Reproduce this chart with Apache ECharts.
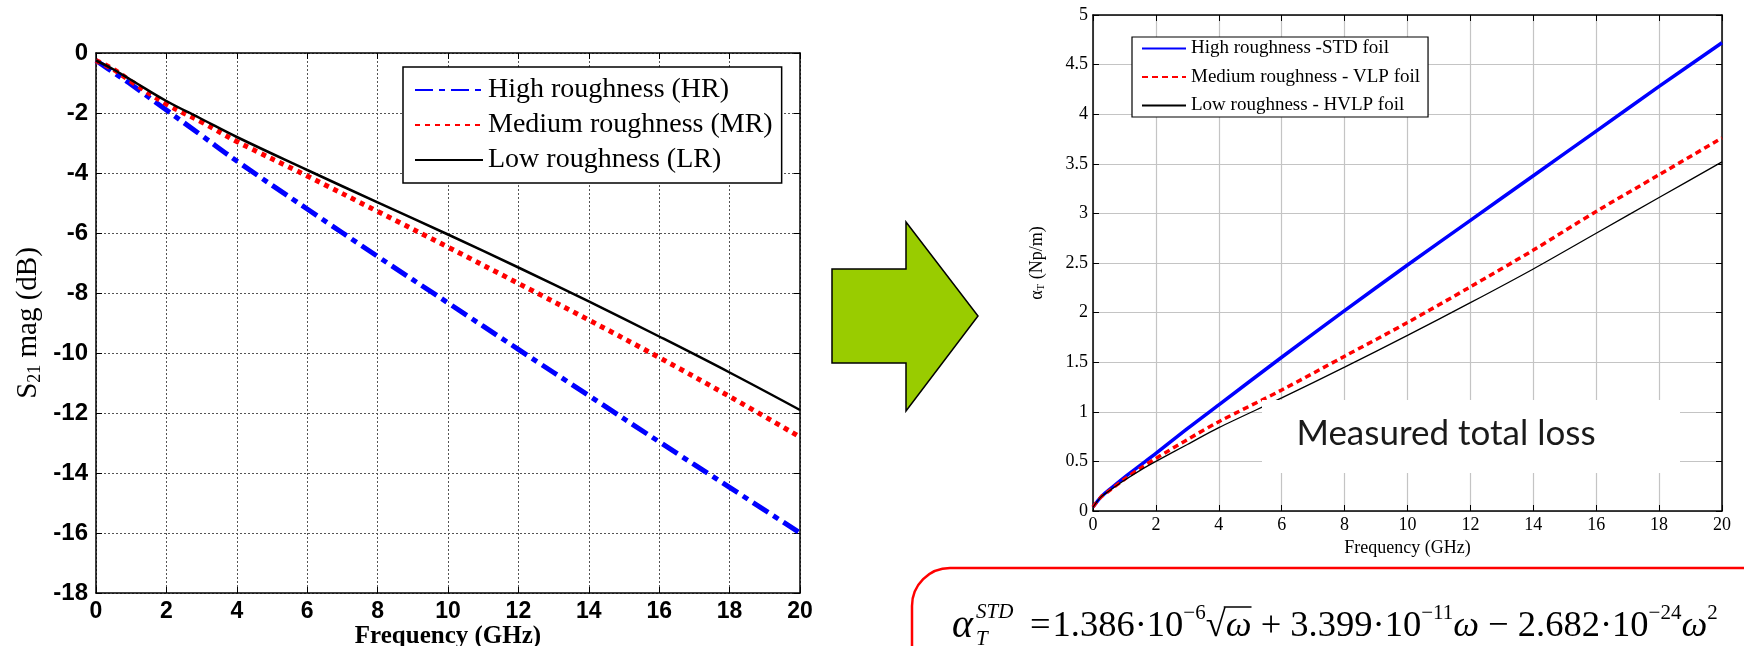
<!DOCTYPE html>
<html><head><meta charset="utf-8">
<script src="https://cdn.jsdelivr.net/npm/echarts@6/dist/echarts.min.js"></script>
<style>html,body{margin:0;padding:0;background:#fff}#c{width:1744px;height:646px}</style>
</head><body><div id="c"></div>
<script>
// ---- Left chart: S21 magnitude (dB) vs frequency (GHz)
const freqS21 = [0, 0.5, 1, 2, 3, 4, 6, 8, 10, 12, 14, 16, 18, 20];
const hrS21 = [-0.25, -0.65, -1.05, -1.9, -2.75, -3.6, -5.2, -6.78, -8.33, -9.88, -11.42, -12.96, -14.48, -16.0];
const mrS21 = [-0.25, -0.55, -0.95, -1.7, -2.3, -2.95, -4.1, -5.28, -6.47, -7.68, -8.9, -10.15, -11.45, -12.8];
const lrS21 = [-0.25, -0.55, -0.9, -1.6, -2.2, -2.8, -3.9, -4.98, -6.05, -7.15, -8.28, -9.45, -10.65, -11.9];
const leftNames = ['High roughness (HR)', 'Medium roughness (MR)', 'Low roughness (LR)'];

// ---- Right chart: total attenuation alpha_T (Np/m) vs frequency (GHz)
const freqA = [0, 0.25, 0.5, 1, 1.5, 2, 3, 4, 6, 8, 10, 12, 14, 16, 18, 20];
const stdA = [0.04, 0.14, 0.21, 0.34, 0.46, 0.58, 0.83, 1.07, 1.55, 2.02, 2.48, 2.93, 3.38, 3.83, 4.28, 4.72];
const vlpA = [0.04, 0.14, 0.2, 0.32, 0.43, 0.53, 0.72, 0.9, 1.22, 1.56, 1.9, 2.26, 2.63, 3.02, 3.39, 3.76];
const hvlpA = [0.04, 0.14, 0.2, 0.31, 0.41, 0.5, 0.67, 0.84, 1.14, 1.45, 1.77, 2.1, 2.44, 2.8, 3.16, 3.52];
const rightNames = ['High roughness -STD foil', 'Medium roughness - VLP foil', 'Low roughness - HVLP foil'];

const pairs = (xs, ys) => xs.map((x, i) => [x, ys[i]]);

const chart = echarts.init(document.getElementById('c'));

const serif = 'Liberation Serif';
function frameAxis(grid, pos, min, max, interval) {
  return {
    gridIndex: grid, type: 'value', position: pos, min, max, interval,
    axisLine: {show: true, onZero: false, lineStyle: {color: '#000', width: 1.5}},
    axisTick: {show: true, inside: true, length: 6, lineStyle: {color: '#000', width: 1}},
    axisLabel: {show: false}, splitLine: {show: false}
  };
}

const option = {
  animation: false,
  backgroundColor: '#fff',
  textStyle: {fontFamily: serif},
  grid: [
    {left: 96, top: 53, width: 704, height: 540, show: false, outerBoundsMode: 'none', containLabel: false},
    {left: 1093, top: 15, width: 629, height: 496, show: false, outerBoundsMode: 'none', containLabel: false}
  ],
  xAxis: [
    {
      gridIndex: 0, type: 'value', min: 0, max: 20, interval: 2, position: 'bottom',
      axisLine: {show: true, onZero: false, lineStyle: {color: '#000', width: 1.5}},
      axisTick: {show: true, inside: true, length: 6, lineStyle: {color: '#000'}},
      axisLabel: {margin: 7, color: '#000', fontFamily: 'Liberation Sans', fontWeight: 'bold', fontSize: 23},
      splitLine: {show: true, lineStyle: {type: [2, 2], color: '#555', width: 1}},
      name: 'Frequency (GHz)', nameLocation: 'middle', nameGap: 31, nameMoveOverlap: false,
      nameTextStyle: {fontFamily: serif, fontWeight: 'bold', fontSize: 25, color: '#000'}
    },
    frameAxis(0, 'top', 0, 20, 2),
    {
      gridIndex: 1, type: 'value', min: 0, max: 20, interval: 2, position: 'bottom',
      axisLine: {show: true, onZero: false, lineStyle: {color: '#000', width: 1.5}},
      axisTick: {show: true, inside: true, length: 6, lineStyle: {color: '#000'}},
      axisLabel: {margin: 5, color: '#000', fontFamily: serif, fontSize: 18},
      splitLine: {show: true, lineStyle: {color: '#c4c4c4', width: 1.2}},
      name: 'Frequency (GHz)', nameLocation: 'middle', nameGap: 28, nameMoveOverlap: false,
      nameTextStyle: {fontFamily: serif, fontSize: 18, color: '#000'}
    },
    frameAxis(1, 'top', 0, 20, 2)
  ],
  yAxis: [
    {
      gridIndex: 0, type: 'value', min: -18, max: 0, interval: 2, position: 'left',
      axisLine: {show: true, onZero: false, lineStyle: {color: '#000', width: 1.5}},
      axisTick: {show: true, inside: true, length: 6, lineStyle: {color: '#000'}},
      axisLabel: {margin: 8, color: '#000', fontFamily: 'Liberation Sans', fontWeight: 'bold', fontSize: 24},
      splitLine: {show: true, lineStyle: {type: [2, 2], color: '#555', width: 1}},
      name: 'S{s|21} mag (dB)', nameLocation: 'middle', nameGap: 52, nameMoveOverlap: false,
      nameTextStyle: {fontFamily: serif, fontSize: 29, color: '#000',
        rich: {s: {fontFamily: serif, fontSize: 18, color: '#000', padding: [14, 0, 0, 0]}}}
    },
    frameAxis(0, 'right', -18, 0, 2),
    {
      gridIndex: 1, type: 'value', min: 0, max: 5, interval: 0.5, position: 'left',
      axisLine: {show: true, onZero: false, lineStyle: {color: '#000', width: 1.5}},
      axisTick: {show: true, inside: true, length: 6, lineStyle: {color: '#000'}},
      axisLabel: {margin: 5, color: '#000', fontFamily: serif, fontSize: 18},
      splitLine: {show: true, lineStyle: {color: '#c4c4c4', width: 1.2}},
      name: 'α{s|T} (Np/m)', nameLocation: 'middle', nameGap: 46, nameMoveOverlap: false,
      nameTextStyle: {fontFamily: serif, fontSize: 18, color: '#000',
        rich: {s: {fontFamily: serif, fontSize: 11, color: '#000', padding: [8, 0, 0, 0]}}}
    },
    frameAxis(1, 'right', 0, 5, 0.5)
  ],
  legend: [
    {
      data: leftNames, orient: 'vertical', left: 403, top: 67, selectedMode: false,
      itemWidth: 68, itemHeight: 22, itemGap: 7, padding: [9, 9, 9, 11],
      backgroundColor: '#fff', borderColor: '#000', borderWidth: 1.5,
      itemStyle: {opacity: 0},
      textStyle: {fontFamily: serif, fontSize: 28, lineHeight: 26, color: '#000'}
    },
    {
      data: rightNames, orient: 'vertical', left: 1132, top: 37, selectedMode: false,
      itemWidth: 44, itemHeight: 16, itemGap: 9.5, padding: [2, 8, 2, 9],
      backgroundColor: '#fff', borderColor: '#000', borderWidth: 1.2,
      itemStyle: {opacity: 0},
      textStyle: {fontFamily: serif, fontSize: 19, lineHeight: 19, color: '#000'}
    }
  ],
  series: [
    {name: leftNames[0], type: 'line', xAxisIndex: 0, yAxisIndex: 0, data: pairs(freqS21, hrS21),
      symbol: 'none', smooth: 0.4, lineStyle: {color: '#0000ff', width: 5, type: [18, 6, 6, 6]}, itemStyle: {color: '#0000ff'}, z: 3},
    {name: leftNames[1], type: 'line', xAxisIndex: 0, yAxisIndex: 0, data: pairs(freqS21, mrS21),
      symbol: 'none', smooth: 0.4, lineStyle: {color: '#ff0000', width: 5, type: [5, 5]}, itemStyle: {color: '#ff0000'}, z: 4},
    {name: leftNames[2], type: 'line', xAxisIndex: 0, yAxisIndex: 0, data: pairs(freqS21, lrS21),
      symbol: 'none', smooth: 0.4, lineStyle: {color: '#000', width: 2.5}, itemStyle: {color: '#000'}, z: 5},
    {name: rightNames[0], type: 'line', xAxisIndex: 2, yAxisIndex: 2, data: pairs(freqA, stdA),
      symbol: 'none', smooth: 0.3, lineStyle: {color: '#0000ff', width: 3.5}, itemStyle: {color: '#0000ff'}, z: 3},
    {name: rightNames[1], type: 'line', xAxisIndex: 2, yAxisIndex: 2, data: pairs(freqA, vlpA),
      symbol: 'none', smooth: 0.3, lineStyle: {color: '#ff0000', width: 3.5, type: [6, 4]}, itemStyle: {color: '#ff0000'}, z: 4},
    {name: rightNames[2], type: 'line', xAxisIndex: 2, yAxisIndex: 2, data: pairs(freqA, hvlpA),
      symbol: 'none', smooth: 0.3, lineStyle: {color: '#000', width: 1.3}, itemStyle: {color: '#000'}, z: 5}
  ]
};

// ---- formula pieces, laid out by measuring text widths
const formulaPieces = [
  {t: '=', size: 36.5},
  {t: '1.386·10', size: 36.5},
  {t: '−6', size: 21, sup: true},
  {t: '√', size: 36.5},
  {t: 'ω', size: 36.5, it: true, over: true},
  {t: ' + 3.399·10', size: 36.5},
  {t: '−11', size: 21, sup: true},
  {t: 'ω', size: 36.5, it: true},
  {t: ' − 2.682·10', size: 36.5},
  {t: '−24', size: 21, sup: true},
  {t: 'ω', size: 36.5, it: true},
  {t: '2', size: 21, sup: true}
];
const ctx = document.createElement('canvas').getContext('2d');
const graphics = [];
// arrow
graphics.push({type: 'polygon', z: 50,
  shape: {points: [[832, 269], [906, 269], [906, 222], [978, 316], [906, 411], [906, 363], [832, 363]]},
  style: {fill: '#99cc00', stroke: '#000', lineWidth: 1.5}});
// measured total loss box
graphics.push({type: 'rect', z: 50, shape: {x: 1262, y: 400, width: 418, height: 73}, style: {fill: '#fff'}});
graphics.push({type: 'text', z: 51, x: 1446, y: 434,
  style: {text: 'Measured total loss', fontFamily: 'Lato', fontSize: 35, fill: '#1a1a1a', align: 'center', verticalAlign: 'middle'}});
// red rounded box
graphics.push({type: 'rect', z: 50, shape: {x: 912, y: 568, width: 900, height: 200, r: 38},
  style: {fill: 'none', stroke: '#ff0000', lineWidth: 2.5}});
// alpha block
const fy = 626;
let fx = 952;
graphics.push({type: 'text', z: 51, x: fx, y: fy, style: {text: 'α', fontFamily: serif, fontStyle: 'italic', fontSize: 40, fill: '#000', verticalAlign: 'middle'}});
graphics.push({type: 'text', z: 51, x: fx + 24, y: fy - 14, style: {text: 'STD', fontFamily: serif, fontStyle: 'italic', fontSize: 21, fill: '#000', verticalAlign: 'middle'}});
graphics.push({type: 'text', z: 51, x: fx + 24, y: fy + 13, style: {text: 'T', fontFamily: serif, fontStyle: 'italic', fontSize: 21, fill: '#000', verticalAlign: 'middle'}});
fx += 24 + 54;
formulaPieces.forEach(p => {
  const font = (p.it ? 'italic ' : '') + p.size + 'px "' + serif + '"';
  ctx.font = font;
  const w = ctx.measureText(p.t).width;
  const y = p.sup ? fy - 13 : fy;
  graphics.push({type: 'text', z: 51, x: fx, y: y,
    style: {text: p.t, fontFamily: serif, fontStyle: p.it ? 'italic' : 'normal', fontSize: p.size, fill: '#000', verticalAlign: 'middle'}});
  if (p.over) {
    graphics.push({type: 'line', z: 51, shape: {x1: fx - 2, y1: fy - 19, x2: fx + w, y2: fy - 19}, style: {stroke: '#000', lineWidth: 1.5}});
  }
  fx += w + (p.t === '=' ? 2 : 0);
});
option.graphic = graphics;
chart.setOption(option);
</script></body></html>
